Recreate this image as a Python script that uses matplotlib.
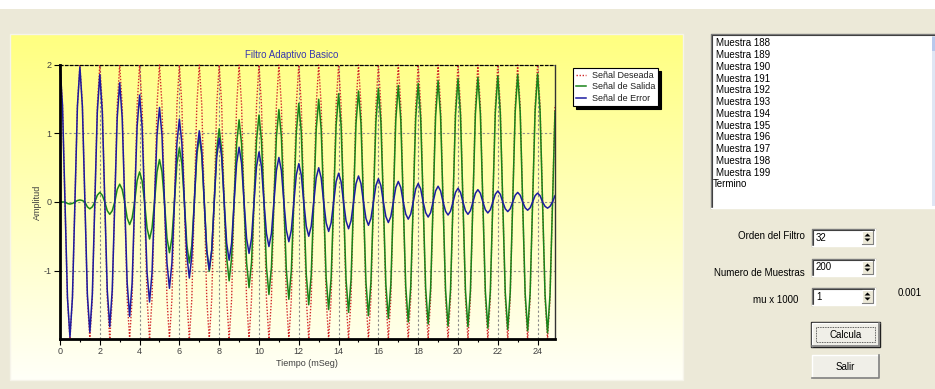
import numpy as np
import matplotlib.pyplot as plt
from matplotlib.patches import Rectangle, Polygon

plt.rcParams['axes.unicode_minus'] = False

W, H = 935, 389

# 200 muestras a 0.125 ms (8 muestras por periodo de 1 ms)
n_muestras = 200
dt_ms = 0.125
t = np.arange(n_muestras) * dt_ms

# un periodo de la señal deseada
deseada_periodo = [2.0, 1.414, 0.0, -1.414, -2.0, -1.414, 0.0, 1.414]

# picos (t = 0, 1, ... 24) y valles (t = 0.5, 1.5, ... 24.5) del error
error_picos = [2.0, 1.97, 1.86, 1.74, 1.56, 1.38, 1.21, 1.04, 0.93, 0.80,
               0.73, 0.65, 0.56, 0.50, 0.42, 0.38, 0.34, 0.30, 0.27, 0.23,
               0.20, 0.18, 0.16, 0.14, 0.13]
error_valles = [1.97, 1.90, 1.82, 1.67, 1.46, 1.26, 1.11, 0.99, 0.85, 0.75,
                0.65, 0.58, 0.50, 0.43, 0.39, 0.34, 0.30, 0.25, 0.22, 0.19,
                0.18, 0.16, 0.14, 0.12, 0.09]

lista_items = ["Muestra 188", "Muestra 189", "Muestra 190", "Muestra 191",
               "Muestra 192", "Muestra 193", "Muestra 194", "Muestra 195",
               "Muestra 196", "Muestra 197", "Muestra 198", "Muestra 199",
               "Termino"]

orden_filtro = "32"
num_muestras = "200"
mu_x1000 = "1"
mu_texto = "0.001"

deseada = np.tile(deseada_periodo, n_muestras // len(deseada_periodo))
P = np.array(error_picos)
V = np.array(error_valles)
P_sig = np.append(P[1:], P[-1])
error = np.zeros(n_muestras)
error[0::8] = P
error[1::8] = 0.707 * P
error[3::8] = -0.707 * V
error[4::8] = -V
error[5::8] = -0.707 * V
error[7::8] = 0.707 * P_sig
salida = deseada - error

UIFONT = 'Liberation Sans'

fig = plt.figure(figsize=(W / 100, H / 100), dpi=100)
fig.patch.set_facecolor('#ECE9D8')

# capa de fondo en pixeles
bg = fig.add_axes([0, 0, 1, 1])
bg.axis('off')
bg.add_patch(Rectangle((0, 0), W, 9, color='white', lw=0))

# panel amarillo con degradado
g = np.linspace(0, 1, 256)
img = np.ones((256, 1, 3))
img[:, 0, 2] = (128 + 120 * g) / 255
bg.imshow(img, extent=[10, 683, 380, 34], aspect='auto', interpolation='bilinear')
bg.add_patch(Rectangle((10, 34), 673, 346, fill=False, ec='#f6f4ea', lw=1))


def hundido(x, y, w, h):
    bg.add_patch(Rectangle((x, y), w, h, color='white', lw=0))
    bg.plot([x, x, x + w], [y + h, y, y], color='#7f7f7f', lw=1)
    bg.plot([x + 1, x + 1, x + w - 1], [y + h - 1, y + 1, y + 1], color='#404040', lw=0.8)
    bg.plot([x, x + w, x + w], [y + h, y + h, y], color='#ffffff', lw=1)


def spin(x, y, w, h, texto):
    hundido(x, y, w, h)
    bg.text(x + 4, y + h / 2, texto, fontsize=7, family=UIFONT, va='center', ha='left')
    bx = x + w - 13
    bg.add_patch(Rectangle((bx, y + 2), 11, h - 4, color='#ECE9D8', lw=0))
    bg.plot([bx, bx, bx + 11], [y + h - 2, y + 2, y + 2], color='white', lw=0.8)
    bg.plot([bx, bx + 11, bx + 11], [y + h - 2, y + h - 2, y + 2], color='#808080', lw=0.8)
    cx, cy = bx + 5.5, y + h / 2
    bg.add_patch(Polygon([[cx - 3, cy - 1], [cx + 3, cy - 1], [cx, cy - 4]], color='black', lw=0))
    bg.add_patch(Polygon([[cx - 3, cy + 1], [cx + 3, cy + 1], [cx, cy + 4]], color='black', lw=0))


def boton(x, y, w, h, texto, defecto=False):
    bg.add_patch(Rectangle((x, y), w, h, color='#F0EFE8', lw=0))
    bg.plot([x, x, x + w], [y + h, y, y], color='white', lw=1)
    bg.plot([x, x + w, x + w], [y + h, y + h, y], color='#808080', lw=1.2)
    if defecto:
        bg.add_patch(Rectangle((x - 1, y - 1), w + 2, h + 2, fill=False, ec='#202020', lw=1))
        bg.add_patch(Rectangle((x + 4, y + 4), w - 8, h - 8, fill=False, ec='#303030',
                               lw=0.6, ls=(0, (1, 1))))
    bg.text(x + w / 2, y + h / 2, texto, fontsize=7, family=UIFONT, ha='center', va='center')


# lista de mensajes
hundido(711, 34, 226, 174)
bg.add_patch(Rectangle((932, 36), 3, 170, color='#dfe6f4', lw=0))
bg.add_patch(Rectangle((932, 37), 3, 14, color='#b8c8ec', lw=0))
for i, item in enumerate(lista_items):
    x0 = 712.5 if item == "Termino" else 716.5
    bg.text(x0, 43.3 + i * 11.75, item, fontsize=7, family=UIFONT, va='center', ha='left')

# controles
bg.text(805, 236, "Orden del Filtro", fontsize=7, family=UIFONT, ha='right', va='center')
spin(812, 229, 63, 17, orden_filtro)
bg.text(805, 273, "Numero de Muestras", fontsize=7, family=UIFONT, ha='right', va='center')
spin(812, 259, 63, 17, num_muestras)
bg.text(776, 300, "mu x 1000", fontsize=7, family=UIFONT, ha='center', va='center')
spin(812, 288, 63, 17, mu_x1000)
bg.text(898, 293, mu_texto, fontsize=7, family=UIFONT, ha='left', va='center')
boton(812, 323, 67, 23, "Calcula", defecto=True)
boton(812, 355, 67, 23, "Salir")

bg.set_xlim(0, W)
bg.set_ylim(H, 0)

# grafica
L, R, T, B = 60, 555, 65, 339
ax = fig.add_axes([L / W, 1 - B / H, (R - L) / W, (B - T) / H])
ax.patch.set_alpha(0)

ax.plot(t, deseada, color='#d02828', lw=1.0, ls=(0, (1, 1.2)), label='Señal Deseada', clip_on=False)
ax.plot(t, salida, color='#1a841a', lw=1.1, label='Señal de Salida', clip_on=False)
ax.plot(t, error, color='#1c1ca0', lw=1.1, label='Señal de Error', clip_on=False)

ax.set_xlim(0, t[-1])
ax.set_ylim(-2, 2)
ax.set_xticks(np.arange(0, 25, 2))
ax.set_xticks(np.arange(1, 25, 2), minor=True)
ax.set_yticks([-1, 0, 1, 2])
ax.tick_params(which='both', direction='out', color='black', labelcolor='#404040',
               labelsize=6.5, width=0.8)
ax.tick_params(which='major', length=4, pad=2)
ax.tick_params(which='minor', length=2.5)
for lab in ax.get_xticklabels() + ax.get_yticklabels():
    lab.set_family(UIFONT)
ax.grid(True, which='major', ls=(0, (2, 2)), color='#8a8a8a', lw=0.8)

for s in ['left', 'bottom']:
    ax.spines[s].set_linewidth(2)
    ax.spines[s].set_color('black')
ax.spines['top'].set_linestyle((0, (2, 2)))
ax.spines['top'].set_color('black')
ax.spines['top'].set_linewidth(0.9)
ax.spines['right'].set_color('#333333')
ax.spines['right'].set_linewidth(1)

fig.text(292 / W, 1 - 55 / H, "Filtro Adaptivo Basico", color='#3838b0', fontsize=7,
         family=UIFONT, ha='center', va='center')
fig.text(37 / W, 1 - 202 / H, "Amplitud", color='#404040', fontsize=6.5, family=UIFONT,
         rotation=90, ha='center', va='center')
fig.text(307 / W, 1 - 363 / H, "Tiempo (mSeg)", color='#404040', fontsize=6.5,
         family=UIFONT, ha='center', va='center')

leg = ax.legend(loc='upper left', bbox_to_anchor=(573 / W, 1 - 68 / H),
                bbox_transform=fig.transFigure, prop={'family': UIFONT, 'size': 6.5},
                frameon=True, fancybox=False, edgecolor='black', facecolor='white',
                framealpha=1, borderaxespad=0, handlelength=1.1, handletextpad=0.6,
                labelspacing=0.25, borderpad=0.35,
                shadow={'color': 'black', 'alpha': 1})
leg.get_frame().set_linewidth(0.8)
for txt in leg.get_texts():
    txt.set_color('#202020')

fig.savefig('out.png', dpi=100)
